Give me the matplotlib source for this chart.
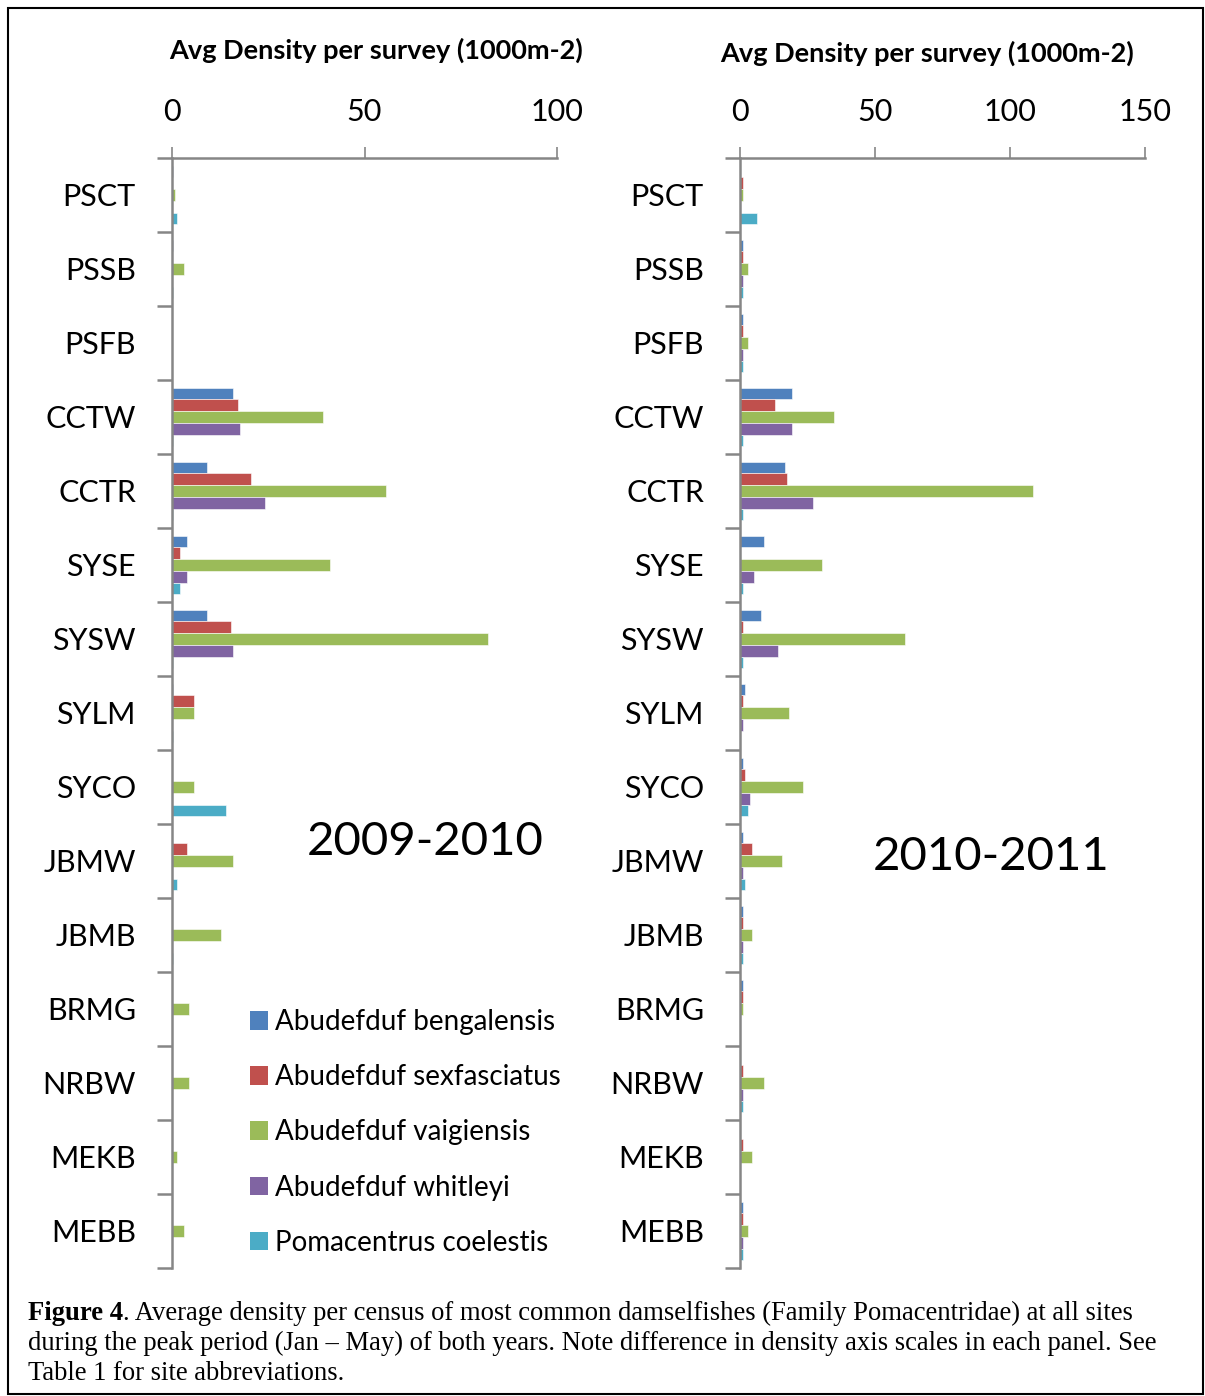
import numpy as np
import matplotlib.pyplot as plt
from matplotlib.patches import Patch, Rectangle

sites = ['PSCT', 'PSSB', 'PSFB', 'CCTW', 'CCTR', 'SYSE', 'SYSW', 'SYLM',
         'SYCO', 'JBMW', 'JBMB', 'BRMG', 'NRBW', 'MEKB', 'MEBB']
species = ['Abudefduf bengalensis', 'Abudefduf sexfasciatus',
           'Abudefduf vaigiensis', 'Abudefduf whitleyi', 'Pomacentrus coelestis']
colors = ['#4F81BD', '#C0504D', '#9BBB59', '#8064A2', '#4BACC6']

# 2009-2010 (values per site, in order of `sites`)
beng_0910 = [0.2, 0.2, 0, 15.8, 9.2, 3.8, 9.2, 0.2, 0.1, 0.1, 0.1, 0, 0, 0, 0]
sexf_0910 = [0, 0.1, 0, 17.1, 20.6, 2.0, 15.2, 5.6, 0.1, 3.8, 0.1, 0.1, 0.1, 0, 0]
vaig_0910 = [0.8, 3.2, 0, 39.3, 55.5, 41.1, 82.0, 5.6, 5.6, 15.8, 12.8, 4.4, 4.4, 1.4, 3.2]
whit_0910 = [0, 0, 0, 17.7, 24.2, 3.8, 15.8, 0, 0, 0, 0, 0, 0, 0, 0]
coel_0910 = [1.4, 0.2, 0, 0.2, 0.2, 2.0, 0.2, 0.2, 14.0, 1.4, 0.2, 0, 0, 0, 0]

# 2010-2011
beng_1011 = [0, 1.1, 1.1, 19.2, 16.6, 8.8, 7.9, 2.0, 1.1, 1.1, 1.1, 1.1, 0, 0, 1.1]
sexf_1011 = [1.1, 1.1, 1.1, 13.1, 17.4, 0, 1.1, 1.1, 2.0, 4.6, 1.1, 1.1, 1.1, 1.1, 1.1]
vaig_1011 = [1.1, 2.8, 2.8, 34.7, 108.6, 30.3, 61.2, 18.2, 23.4, 15.7, 4.6, 1.1, 8.8, 4.6, 2.8]
whit_1011 = [0, 1.1, 1.1, 19.2, 27.0, 5.3, 14.0, 1.1, 3.7, 1.1, 1.1, 0, 1.1, 0, 1.1]
coel_1011 = [6.2, 1.1, 1.1, 1.1, 1.1, 1.1, 1.1, 0, 2.8, 2.0, 1.1, 0, 1.1, 0, 1.1]

panels = [
    ([beng_0910, sexf_0910, vaig_0910, whit_0910, coel_0910], 100, [0, 50, 100], '2009-2010'),
    ([beng_1011, sexf_1011, vaig_1011, whit_1011, coel_1011], 150, [0, 50, 100, 150], '2010-2011'),
]

W, H = 1205, 1396
fig = plt.figure(figsize=(W / 100, H / 100), dpi=100)
plt.rcParams['font.family'] = ['Lato', 'DejaVu Sans']

grey = '#868686'
bar_h = 0.158
y = np.arange(len(sites))

# axes boxes in pixels: left, right
boxes = [(172, 557), (740, 1145)]
top_px, bot_px = 158, 1268
year_pos = [(425, 842), (991, 857)]
title_pos = [(376, 50), (927, 53)]

for i, (series, xmax, xt, year) in enumerate(panels):
    l, r = boxes[i]
    ax = fig.add_axes([l / W, 1 - bot_px / H, (r - l) / W, (bot_px - top_px) / H])
    for k, vals in enumerate(series):
        ax.barh(y + (k - 2) * bar_h, vals, height=bar_h, color=colors[k],
                edgecolor='white', linewidth=0.4)
    ax.set_xlim(0, xmax)
    ax.set_ylim(len(sites) - 0.5, -0.5)
    ax.xaxis.tick_top()
    ax.set_xticks(xt)
    ax.tick_params(axis='x', direction='out', length=8, width=1.2, color=grey,
                   labelsize=22, pad=15)
    ax.set_yticks(np.arange(len(sites) + 1) - 0.5)
    ax.set_yticklabels([])
    ax.set_yticks(y, minor=True)
    ax.set_yticklabels(sites, minor=True, fontsize=22)
    ax.tick_params(axis='y', which='major', direction='out', length=11, width=1.8, color=grey)
    ax.tick_params(axis='y', which='minor', length=0, pad=26)
    for s in ['right', 'bottom']:
        ax.spines[s].set_visible(False)
    for s in ['top', 'left']:
        ax.spines[s].set_color(grey)
        ax.spines[s].set_linewidth(1.8)
    fig.text(title_pos[i][0] / W, 1 - title_pos[i][1] / H, 'Avg Density per survey (1000m-2)',
             fontsize=19.5, fontweight='bold', ha='center', va='center')
    fig.text(year_pos[i][0] / W, 1 - year_pos[i][1] / H, year,
             fontsize=34, ha='center', va='center')

    if i == 0:
        handles = [Patch(facecolor=c, edgecolor='none') for c in colors]
        fig.legend(handles, species, loc='upper left',
                   bbox_to_anchor=(239 / W, 1 - 998 / H), frameon=False,
                   fontsize=20, handlelength=0.65, handleheight=0.65,
                   handletextpad=0.25, labelspacing=1.05, borderaxespad=0)

# outer frame
fig.add_artist(Rectangle((8 / W, 2 / H), (W - 10) / W, (H - 10) / H, transform=fig.transFigure,
                         fill=False, edgecolor='black', linewidth=1.5))

# caption
cap_font = dict(family='Liberation Serif', fontsize=19.2, va='center')
t = fig.text(28 / W, 1 - 1313 / H, 'Figure 4', fontweight='bold', **cap_font)
fig.canvas.draw()
plt.annotate('. Average density per census of most common damselfishes (Family Pomacentridae) at all sites',
             xy=(1, 0.5), xycoords=t, ha='left', annotation_clip=False, **cap_font)
fig.text(28 / W, 1 - 1343 / H,
         'during the peak period (Jan \u2013 May) of both years. Note difference in density axis scales in each panel. See',
         **cap_font)
fig.text(28 / W, 1 - 1373 / H, 'Table 1 for site abbreviations.', **cap_font)

fig.savefig('out.png', dpi=100)
